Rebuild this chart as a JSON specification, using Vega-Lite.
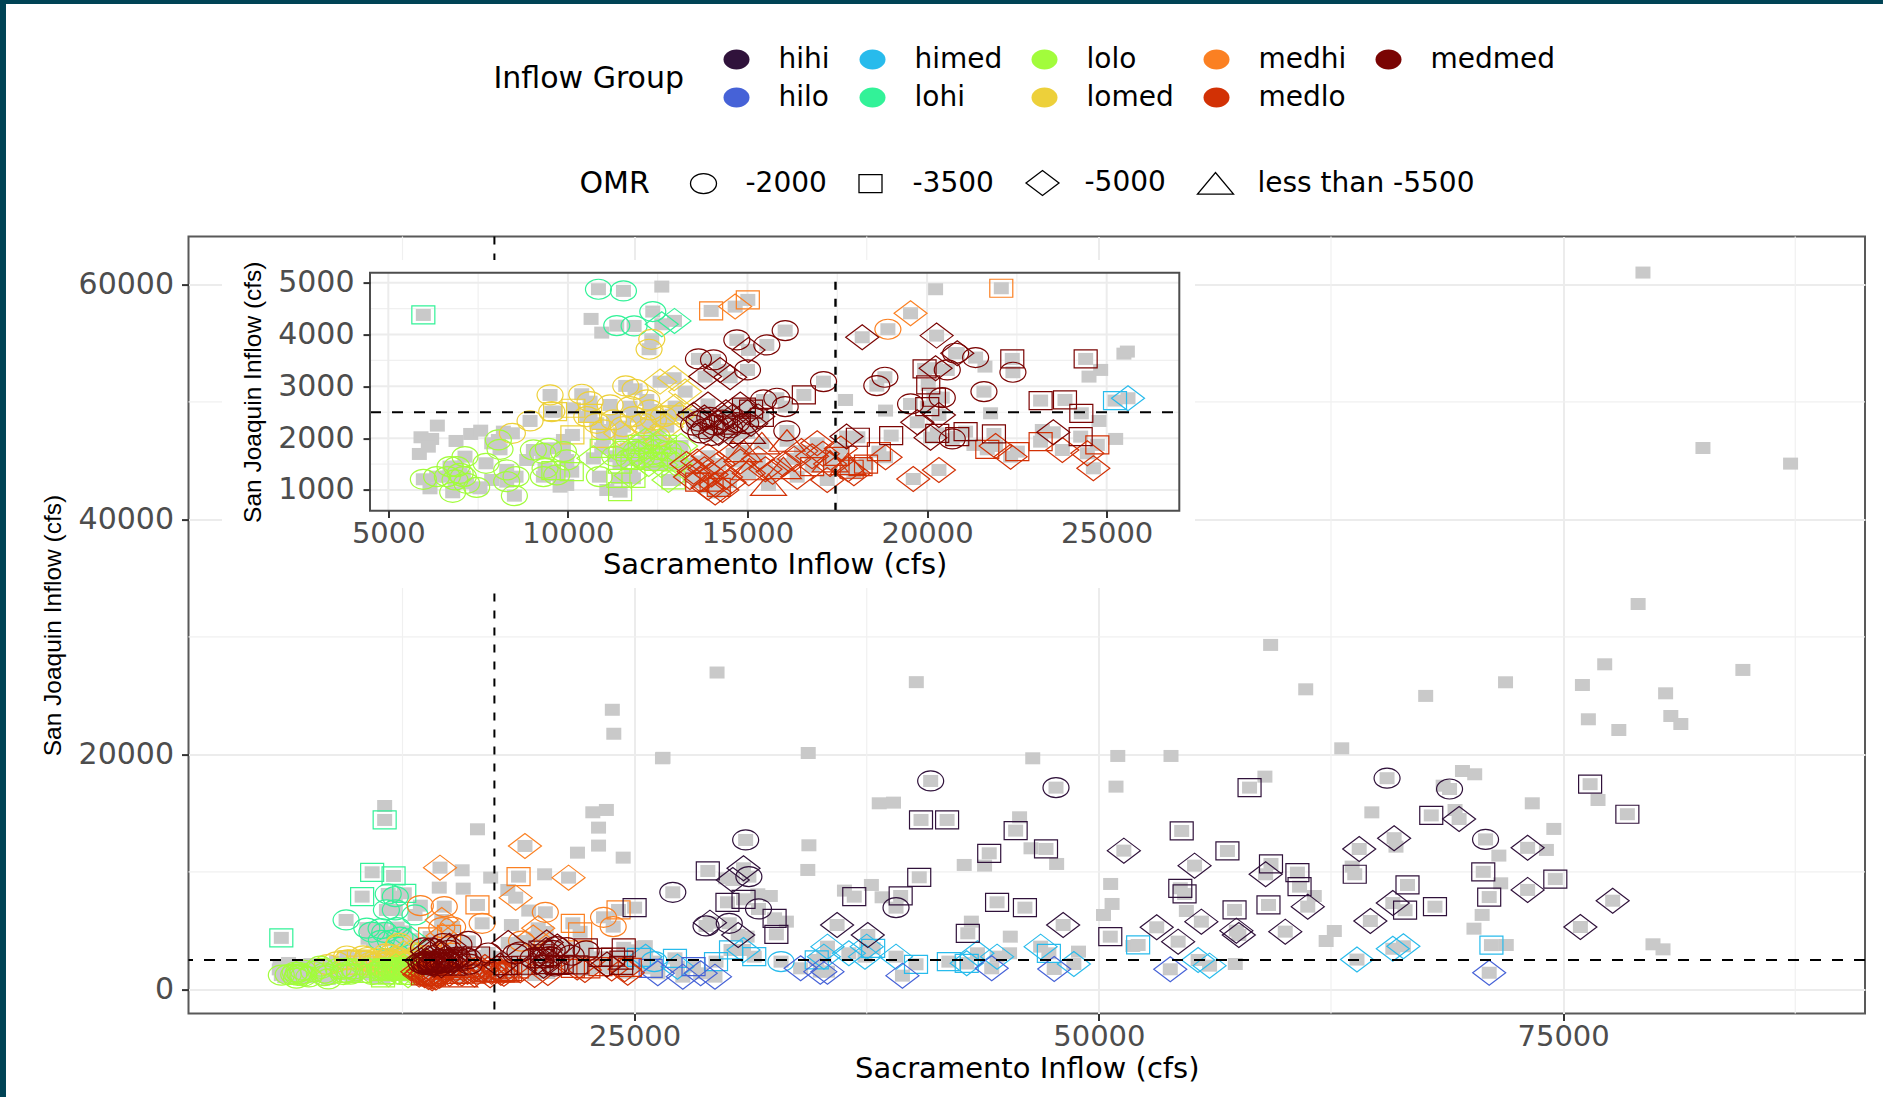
{
"$schema":"https://vega.github.io/schema/vega-lite/v6.json",
"autosize":"none",
"width":1676.5,"height":777,
"padding":{"left":188.5,"top":236.6,"right":18,"bottom":83.4},
"background":"white",
"config":{"font":"DejaVu Sans","view":{"stroke":"#595959","strokeWidth":2}},
"datasets":{
"frame":[{"x":-9174,"x2":-8851,"y":84195,"y2":-9160},{"x":-9174,"x2":92225,"y":84195,"y2":83855}],
"insetBack":[{"x":2781,"x2":55178,"y":62070,"y2":34155}],
"mainMinorX":[{"v":12500},{"v":37500},{"v":62500},{"v":87500}],
"mainMinorY":[{"v":10000},{"v":30000},{"v":50000}],
"insetMajorX":[{"v":5000},{"v":10000},{"v":15000},{"v":20000},{"v":25000}],
"insetMinorX":[{"v":7500},{"v":12500},{"v":17500},{"v":22500}],
"insetMajorY":[{"v":1000},{"v":2000},{"v":3000},{"v":4000},{"v":5000}],
"insetMinorY":[{"v":1500},{"v":2500},{"v":3500},{"v":4500}],
"pts":[
{"sac":79300,"sjr":61000},{"sac":82530,"sjr":46070},{"sac":87250,"sjr":44740},{"sac":79040,"sjr":32790},{"sac":59250,"sjr":29310},{"sac":29440,"sjr":26960},{"sac":61140,"sjr":25530},{"sac":40170,"sjr":26140},{"sac":67600,"sjr":24970},{"sac":71900,"sjr":26130},{"sac":77240,"sjr":27660},{"sac":76040,"sjr":25900},{"sac":76360,"sjr":22980},{"sac":78000,"sjr":22070},{"sac":84680,"sjr":27180},{"sac":80520,"sjr":25190},{"sac":80800,"sjr":23260},{"sac":81340,"sjr":22580},{"sac":23800,"sjr":23790},{"sac":23880,"sjr":21750},{"sac":26530,"sjr":19700},{"sac":34350,"sjr":20110},{"sac":63080,"sjr":20510},{"sac":46440,"sjr":19660},{"sac":51019,"sjr":19859},{"sac":53885,"sjr":19859},{"sac":69580,"sjr":18580},{"sac":70240,"sjr":18300},{"sac":58942,"sjr":18100},{"sac":50923,"sjr":17249},{"sac":73340,"sjr":15830},{"sac":74500,"sjr":13650},{"sac":76880,"sjr":16110},{"sac":64700,"sjr":15060},{"sac":69180,"sjr":15260},{"sac":68540,"sjr":17330},{"sac":74100,"sjr":11860},{"sac":71540,"sjr":11380},{"sac":63640,"sjr":10440},{"sac":71640,"sjr":9020},{"sac":61600,"sjr":7940},{"sac":62680,"sjr":4960},{"sac":62240,"sjr":4110},{"sac":70640,"sjr":6330},{"sac":70200,"sjr":5160},{"sac":79840,"sjr":3830},{"sac":80380,"sjr":3400},{"sac":71940,"sjr":3770},{"sac":66000,"sjr":12140},
{"sac":11540,"sjr":15600},{"sac":16538,"sjr":13618},{"sac":22750,"sjr":15065},{"sac":23480,"sjr":15263},{"sac":23058,"sjr":13760},{"sac":23058,"sjr":12230},{"sac":21923,"sjr":11630},{"sac":24385,"sjr":11206},{"sac":26500,"sjr":19660},{"sac":15712,"sjr":10128},{"sac":17250,"sjr":9504},{"sac":14480,"sjr":8653},{"sac":15770,"sjr":8568},{"sac":20154,"sjr":9788},{"sac":18173,"sjr":8454},{"sac":31635,"sjr":8085},{"sac":32308,"sjr":7943},{"sac":29904,"sjr":9447},{"sac":31058,"sjr":4482},{"sac":25480,"sjr":3631},{"sac":18365,"sjr":5475},{"sac":19300,"sjr":6700},
{"sac":33173,"sjr":5759},{"sac":34385,"sjr":12256},{"sac":34327,"sjr":10157},{"sac":38173,"sjr":15830},{"sac":38942,"sjr":15887},{"sac":45731,"sjr":14639},{"sac":46346,"sjr":12000},{"sac":47727,"sjr":10667},{"sac":42750,"sjr":10582},{"sac":43846,"sjr":10525},{"sac":37750,"sjr":8880},{"sac":36300,"sjr":8400},{"sac":38327,"sjr":7830},{"sac":50635,"sjr":8965},{"sac":50712,"sjr":7263},{"sac":50250,"sjr":6326},{"sac":54711,"sjr":6667},{"sac":43135,"sjr":5759},{"sac":45231,"sjr":4482},{"sac":45192,"sjr":3064},{"sac":48904,"sjr":3206},{"sac":57346,"sjr":2156},{"sac":51827,"sjr":3688},
{"sac":12614,"sjr":4925},{"sac":10645,"sjr":4301},{"sac":10942,"sjr":4037},{"sac":6365,"sjr":2242},{"sac":5910,"sjr":2017},{"sac":6207,"sjr":1985},{"sac":6114,"sjr":1836},{"sac":5864,"sjr":1695},{"sac":6885,"sjr":1946},{"sac":7293,"sjr":2081},{"sac":7572,"sjr":2145},{"sac":7878,"sjr":1901},{"sac":8203,"sjr":2126},{"sac":6160,"sjr":1032},{"sac":7553,"sjr":1032},{"sac":7878,"sjr":1193},{"sac":9782,"sjr":1064},{"sac":9968,"sjr":1097},{"sac":11082,"sjr":1000},{"sac":9875,"sjr":1965},{"sac":8853,"sjr":1579},{"sac":20237,"sjr":4874},{"sac":25576,"sjr":3671},{"sac":24833,"sjr":3317},{"sac":24508,"sjr":3188},{"sac":17730,"sjr":2737},{"sac":18844,"sjr":2532},{"sac":21768,"sjr":2480},{"sac":24786,"sjr":2332},{"sac":25251,"sjr":1985},{"sac":23208,"sjr":2158},{"sac":21611,"sjr":3381},{"sac":21304,"sjr":1869},
{"sac":5975,"sjr":4378,"group":"lohi","omr":"-3500"},{"sac":11540,"sjr":14412,"group":"lohi","omr":"-3500"},{"sac":10866,"sjr":9958,"group":"lohi","omr":"-3500"},{"sac":12020,"sjr":9646,"group":"lohi","omr":"-3500"},{"sac":10327,"sjr":7887,"group":"lohi","omr":"-3500"},{"sac":12596,"sjr":8170,"group":"lohi","omr":"-3500"},
{"sac":10850,"sjr":4874,"group":"lohi","omr":"-2000"},{"sac":11546,"sjr":4842,"group":"lohi","omr":"-2000"},{"sac":11360,"sjr":4172,"group":"lohi","omr":"-2000"},{"sac":11843,"sjr":4166,"group":"lohi","omr":"-2000"},{"sac":12363,"sjr":4443,"group":"lohi","omr":"-2000"},{"sac":11732,"sjr":8114,"group":"lohi","omr":"-2000"},{"sac":12115,"sjr":7887,"group":"lohi","omr":"-2000"},{"sac":11635,"sjr":6752,"group":"lohi","omr":"-2000"},{"sac":12115,"sjr":6752,"group":"lohi","omr":"-2000"},{"sac":13174,"sjr":6326,"group":"lohi","omr":"-2000"},{"sac":9463,"sjr":5901,"group":"lohi","omr":"-2000"},{"sac":10578,"sjr":5208,"group":"lohi","omr":"-2000"},{"sac":11347,"sjr":5166,"group":"lohi","omr":"-2000"},{"sac":12211,"sjr":5250,"group":"lohi","omr":"-2000"},
{"sac":12614,"sjr":4198,"group":"lohi","omr":"-5000"},{"sac":12967,"sjr":4263,"group":"lohi","omr":"-5000"},
{"sac":13988,"sjr":4455,"group":"medhi","omr":"-3500"},{"sac":14656,"sjr":4539,"group":"medhi","omr":"-5000"},{"sac":15009,"sjr":4668,"group":"medhi","omr":"-3500"},{"sac":18909,"sjr":4102,"group":"medhi","omr":"-2000"},{"sac":19540,"sjr":4410,"group":"medhi","omr":"-5000"},{"sac":22066,"sjr":4893,"group":"medhi","omr":"-3500"},
{"sac":14520,"sjr":10355,"group":"medhi","omr":"-5000"},{"sac":19096,"sjr":12199,"group":"medhi","omr":"-5000"},{"sac":21443,"sjr":9504,"group":"medhi","omr":"-5000"},{"sac":18596,"sjr":7802,"group":"medhi","omr":"-5000"},{"sac":14616,"sjr":5901,"group":"medhi","omr":"-5000"},{"sac":19808,"sjr":5192,"group":"medhi","omr":"-5000"},{"sac":18750,"sjr":9590,"group":"medhi","omr":"-3500"},{"sac":16538,"sjr":7178,"group":"medhi","omr":"-3500"},{"sac":21673,"sjr":5617,"group":"medhi","omr":"-3500"},{"sac":24135,"sjr":6752,"group":"medhi","omr":"-3500"},{"sac":13462,"sjr":7120,"group":"medhi","omr":"-2000"},{"sac":14750,"sjr":7036,"group":"medhi","omr":"-2000"},{"sac":16789,"sjr":5617,"group":"medhi","omr":"-2000"},{"sac":20192,"sjr":6553,"group":"medhi","omr":"-2000"},{"sac":23327,"sjr":6128,"group":"medhi","omr":"-2000"},{"sac":23846,"sjr":5334,"group":"medhi","omr":"-2000"},{"sac":14616,"sjr":5250,"group":"medhi","omr":"-2000"},{"sac":15200,"sjr":5300,"group":"medhi","omr":"-2000"},
{"sac":25232,"sjr":2725,"group":"himed","omr":"-3500"},{"sac":25594,"sjr":2770,"group":"himed","omr":"-5000"},{"sac":26057,"sjr":2355,"group":"himed","omr":"-2000"},{"sac":27173,"sjr":2638,"group":"himed","omr":"-3500"},{"sac":27307,"sjr":1929,"group":"himed","omr":"-5000"},{"sac":29384,"sjr":2355,"group":"himed","omr":"-3500"},{"sac":30192,"sjr":3348,"group":"himed","omr":"-3500"},{"sac":30865,"sjr":3348,"group":"himed","omr":"-5000"},{"sac":31442,"sjr":2780,"group":"himed","omr":"-3500"},{"sac":32884,"sjr":2355,"group":"himed","omr":"-2000"},{"sac":35385,"sjr":3631,"group":"himed","omr":"-5000"},{"sac":35192,"sjr":2780,"group":"himed","omr":"-5000"},{"sac":34808,"sjr":2497,"group":"himed","omr":"-3500"},{"sac":36538,"sjr":3064,"group":"himed","omr":"-5000"},{"sac":37500,"sjr":3631,"group":"himed","omr":"-5000"},{"sac":37846,"sjr":3490,"group":"himed","omr":"-3500"},{"sac":37404,"sjr":2780,"group":"himed","omr":"-5000"},{"sac":39077,"sjr":2780,"group":"himed","omr":"-5000"},{"sac":40154,"sjr":2128,"group":"himed","omr":"-3500"},{"sac":41923,"sjr":2355,"group":"himed","omr":"-3500"},{"sac":42885,"sjr":2213,"group":"himed","omr":"-3500"},{"sac":43462,"sjr":3064,"group":"himed","omr":"-5000"},{"sac":44519,"sjr":2780,"group":"himed","omr":"-5000"},{"sac":42885,"sjr":2213,"group":"himed","omr":"-5000"},{"sac":46865,"sjr":3631,"group":"himed","omr":"-5000"},{"sac":47308,"sjr":3064,"group":"himed","omr":"-3500"},{"sac":48654,"sjr":2156,"group":"himed","omr":"-5000"},{"sac":52115,"sjr":3773,"group":"himed","omr":"-3500"},{"sac":55346,"sjr":2497,"group":"himed","omr":"-5000"},{"sac":55962,"sjr":2014,"group":"himed","omr":"-5000"},{"sac":63900,"sjr":2530,"group":"himed","omr":"-5000"},{"sac":65830,"sjr":3450,"group":"himed","omr":"-5000"},{"sac":66400,"sjr":3660,"group":"himed","omr":"-5000"},{"sac":71140,"sjr":3760,"group":"himed","omr":"-3500"},
{"sac":25865,"sjr":1787,"group":"hilo","omr":"-3500"},{"sac":26250,"sjr":1362,"group":"hilo","omr":"-5000"},{"sac":27596,"sjr":1078,"group":"hilo","omr":"-5000"},{"sac":28558,"sjr":1362,"group":"hilo","omr":"-5000"},{"sac":29327,"sjr":1078,"group":"hilo","omr":"-5000"},{"sac":28173,"sjr":1929,"group":"hilo","omr":"-3500"},{"sac":33942,"sjr":1787,"group":"hilo","omr":"-5000"},{"sac":35000,"sjr":1504,"group":"hilo","omr":"-5000"},{"sac":35385,"sjr":1504,"group":"hilo","omr":"-5000"},{"sac":39423,"sjr":1163,"group":"hilo","omr":"-5000"},{"sac":44231,"sjr":1787,"group":"hilo","omr":"-5000"},{"sac":47596,"sjr":1731,"group":"hilo","omr":"-5000"},{"sac":53846,"sjr":1702,"group":"hilo","omr":"-5000"},{"sac":71020,"sjr":1410,"group":"hilo","omr":"-5000"},
{"sac":25000,"sjr":6950,"group":"hihi","omr":"-3500"},{"sac":28942,"sjr":10071,"group":"hihi","omr":"-3500"},{"sac":30000,"sjr":7404,"group":"hihi","omr":"-3500"},{"sac":30865,"sjr":7660,"group":"hihi","omr":"-3500"},{"sac":32538,"sjr":6043,"group":"hihi","omr":"-3500"},{"sac":32634,"sjr":4681,"group":"hihi","omr":"-3500"},{"sac":27057,"sjr":8255,"group":"hihi","omr":"-2000"},{"sac":30980,"sjr":12710,"group":"hihi","omr":"-2000"},{"sac":31154,"sjr":9589,"group":"hihi","omr":"-2000"},{"sac":31673,"sjr":6837,"group":"hihi","omr":"-2000"},{"sac":28846,"sjr":5390,"group":"hihi","omr":"-2000"},{"sac":30096,"sjr":5617,"group":"hihi","omr":"-2000"},{"sac":30865,"sjr":10298,"group":"hihi","omr":"-5000"},{"sac":30288,"sjr":9305,"group":"hihi","omr":"-5000"},{"sac":29058,"sjr":5674,"group":"hihi","omr":"-5000"},{"sac":30577,"sjr":4624,"group":"hihi","omr":"-5000"},
{"sac":40943,"sjr":17731,"group":"hihi","omr":"-2000"},{"sac":47692,"sjr":17164,"group":"hihi","omr":"-2000"},{"sac":39077,"sjr":6950,"group":"hihi","omr":"-2000"},
{"sac":40423,"sjr":14412,"group":"hihi","omr":"-3500"},{"sac":41827,"sjr":14412,"group":"hihi","omr":"-3500"},{"sac":45519,"sjr":13504,"group":"hihi","omr":"-3500"},{"sac":44096,"sjr":11575,"group":"hihi","omr":"-3500"},{"sac":47154,"sjr":11944,"group":"hihi","omr":"-3500"},{"sac":40327,"sjr":9532,"group":"hihi","omr":"-3500"},{"sac":39327,"sjr":7943,"group":"hihi","omr":"-3500"},{"sac":36828,"sjr":7887,"group":"hihi","omr":"-3500"},{"sac":42943,"sjr":4766,"group":"hihi","omr":"-3500"},{"sac":44519,"sjr":7404,"group":"hihi","omr":"-3500"},{"sac":46019,"sjr":6950,"group":"hihi","omr":"-3500"},{"sac":50615,"sjr":4482,"group":"hihi","omr":"-3500"},{"sac":54461,"sjr":13476,"group":"hihi","omr":"-3500"},{"sac":56923,"sjr":11773,"group":"hihi","omr":"-3500"},{"sac":58115,"sjr":17164,"group":"hihi","omr":"-3500"},{"sac":59269,"sjr":10667,"group":"hihi","omr":"-3500"},{"sac":60692,"sjr":9929,"group":"hihi","omr":"-3500"},{"sac":60807,"sjr":8738,"group":"hihi","omr":"-3500"},{"sac":54385,"sjr":8596,"group":"hihi","omr":"-3500"},{"sac":54615,"sjr":8114,"group":"hihi","omr":"-3500"},{"sac":57307,"sjr":6752,"group":"hihi","omr":"-3500"},{"sac":59134,"sjr":7178,"group":"hihi","omr":"-3500"},
{"sac":35904,"sjr":5475,"group":"hihi","omr":"-5000"},{"sac":37558,"sjr":4624,"group":"hihi","omr":"-5000"},{"sac":48077,"sjr":5475,"group":"hihi","omr":"-5000"},{"sac":51346,"sjr":11802,"group":"hihi","omr":"-5000"},{"sac":55154,"sjr":10525,"group":"hihi","omr":"-5000"},{"sac":58981,"sjr":9788,"group":"hihi","omr":"-5000"},{"sac":61250,"sjr":7036,"group":"hihi","omr":"-5000"},{"sac":53115,"sjr":5277,"group":"hihi","omr":"-5000"},{"sac":54269,"sjr":4057,"group":"hihi","omr":"-5000"},{"sac":55519,"sjr":5759,"group":"hihi","omr":"-5000"},{"sac":60038,"sjr":4908,"group":"hihi","omr":"-5000"},{"sac":57404,"sjr":4993,"group":"hihi","omr":"-5000"},{"sac":57538,"sjr":4624,"group":"hihi","omr":"-5000"},
{"sac":65520,"sjr":17966,"group":"hihi","omr":"-2000"},{"sac":68885,"sjr":17047,"group":"hihi","omr":"-2000"},{"sac":70824,"sjr":12755,"group":"hihi","omr":"-2000"},{"sac":76454,"sjr":17456,"group":"hihi","omr":"-3500"},{"sac":78460,"sjr":14900,"group":"hihi","omr":"-3500"},{"sac":67900,"sjr":14800,"group":"hihi","omr":"-3500"},{"sac":74580,"sjr":9380,"group":"hihi","omr":"-3500"},{"sac":63780,"sjr":9790,"group":"hihi","omr":"-3500"},{"sac":66620,"sjr":8880,"group":"hihi","omr":"-3500"},{"sac":66490,"sjr":6730,"group":"hihi","omr":"-3500"},{"sac":68100,"sjr":7030,"group":"hihi","omr":"-3500"},{"sac":70700,"sjr":10000,"group":"hihi","omr":"-3500"},{"sac":71020,"sjr":7850,"group":"hihi","omr":"-3500"},{"sac":64020,"sjr":11940,"group":"hihi","omr":"-5000"},{"sac":65900,"sjr":12860,"group":"hihi","omr":"-5000"},{"sac":69400,"sjr":14490,"group":"hihi","omr":"-5000"},{"sac":73090,"sjr":12040,"group":"hihi","omr":"-5000"},{"sac":73090,"sjr":8460,"group":"hihi","omr":"-5000"},{"sac":64620,"sjr":5810,"group":"hihi","omr":"-5000"},{"sac":65830,"sjr":7340,"group":"hihi","omr":"-5000"},{"sac":75930,"sjr":5300,"group":"hihi","omr":"-5000"},{"sac":77670,"sjr":7540,"group":"hihi","omr":"-5000"},
{"sac":12335,"sjr":3908,"group":"lomed","omr":"-2000"},{"sac":12260,"sjr":3716,"group":"lomed","omr":"-2000"},{"sac":9503,"sjr":2834,"group":"lomed","omr":"-2000"},{"sac":10385,"sjr":2847,"group":"lomed","omr":"-2000"},{"sac":10617,"sjr":2705,"group":"lomed","omr":"-2000"},{"sac":11610,"sjr":3008,"group":"lomed","omr":"-2000"},{"sac":11870,"sjr":2943,"group":"lomed","omr":"-2000"},{"sac":8946,"sjr":2332,"group":"lomed","omr":"-2000"},{"sac":8454,"sjr":2094,"group":"lomed","omr":"-2000"},{"sac":9550,"sjr":2512,"group":"lomed","omr":"-2000"},{"sac":11175,"sjr":2641,"group":"lomed","omr":"-2000"},{"sac":11730,"sjr":2608,"group":"lomed","omr":"-2000"},{"sac":12196,"sjr":2737,"group":"lomed","omr":"-2000"},{"sac":12290,"sjr":2544,"group":"lomed","omr":"-2000"},{"sac":10525,"sjr":2416,"group":"lomed","omr":"-2000"},{"sac":10803,"sjr":2287,"group":"lomed","omr":"-2000"},{"sac":11267,"sjr":2351,"group":"lomed","omr":"-2000"},{"sac":11546,"sjr":2222,"group":"lomed","omr":"-2000"},{"sac":11825,"sjr":2416,"group":"lomed","omr":"-2000"},{"sac":12103,"sjr":2287,"group":"lomed","omr":"-2000"},{"sac":12475,"sjr":2030,"group":"lomed","omr":"-2000"},{"sac":10988,"sjr":2158,"group":"lomed","omr":"-2000"},{"sac":12382,"sjr":2351,"group":"lomed","omr":"-2000"},{"sac":12660,"sjr":2416,"group":"lomed","omr":"-2000"},
{"sac":9643,"sjr":2512,"group":"lomed","omr":"-3500"},{"sac":10153,"sjr":2577,"group":"lomed","omr":"-3500"},{"sac":10125,"sjr":2062,"group":"lomed","omr":"-3500"},{"sac":10617,"sjr":2480,"group":"lomed","omr":"-3500"},{"sac":10988,"sjr":1997,"group":"lomed","omr":"-3500"},{"sac":12900,"sjr":2450,"group":"lomed","omr":"-3500"},{"sac":12567,"sjr":3091,"group":"lomed","omr":"-5000"},{"sac":12957,"sjr":3156,"group":"lomed","omr":"-5000"},{"sac":13263,"sjr":2898,"group":"lomed","omr":"-5000"},{"sac":12985,"sjr":2609,"group":"lomed","omr":"-5000"},{"sac":12753,"sjr":2222,"group":"lomed","omr":"-5000"},{"sac":11453,"sjr":2094,"group":"lomed","omr":"-5000"},{"sac":12196,"sjr":2190,"group":"lomed","omr":"-5000"},{"sac":13100,"sjr":2450,"group":"lomed","omr":"-5000"},
{"sac":5975,"sjr":1206,"group":"lolo","omr":"-2000"},{"sac":6346,"sjr":1257,"group":"lolo","omr":"-2000"},{"sac":6643,"sjr":1257,"group":"lolo","omr":"-2000"},{"sac":6903,"sjr":1450,"group":"lolo","omr":"-2000"},{"sac":7135,"sjr":1643,"group":"lolo","omr":"-2000"},{"sac":7000,"sjr":1320,"group":"lolo","omr":"-2000"},{"sac":6857,"sjr":1193,"group":"lolo","omr":"-2000"},{"sac":7182,"sjr":1129,"group":"lolo","omr":"-2000"},{"sac":7460,"sjr":1051,"group":"lolo","omr":"-2000"},{"sac":6792,"sjr":955,"group":"lolo","omr":"-2000"},{"sac":7089,"sjr":1257,"group":"lolo","omr":"-2000"},{"sac":6718,"sjr":1450,"group":"lolo","omr":"-2000"},{"sac":7720,"sjr":1515,"group":"lolo","omr":"-2000"},{"sac":8064,"sjr":1965,"group":"lolo","omr":"-2000"},{"sac":8110,"sjr":1785,"group":"lolo","omr":"-2000"},{"sac":8296,"sjr":1386,"group":"lolo","omr":"-2000"},{"sac":8296,"sjr":1161,"group":"lolo","omr":"-2000"},{"sac":8556,"sjr":1257,"group":"lolo","omr":"-2000"},{"sac":8510,"sjr":890,"group":"lolo","omr":"-2000"},{"sac":9039,"sjr":1772,"group":"lolo","omr":"-2000"},{"sac":9299,"sjr":1708,"group":"lolo","omr":"-2000"},{"sac":9457,"sjr":1804,"group":"lolo","omr":"-2000"},{"sac":9875,"sjr":1740,"group":"lolo","omr":"-2000"},{"sac":9364,"sjr":1418,"group":"lolo","omr":"-2000"},{"sac":9317,"sjr":1257,"group":"lolo","omr":"-2000"},{"sac":9689,"sjr":1290,"group":"lolo","omr":"-2000"},{"sac":9968,"sjr":1579,"group":"lolo","omr":"-2000"},{"sac":10877,"sjr":1257,"group":"lolo","omr":"-2000"},
{"sac":10107,"sjr":1354,"group":"lolo","omr":"-3500"},{"sac":11453,"sjr":968,"group":"lolo","omr":"-3500"},{"sac":11407,"sjr":1225,"group":"lolo","omr":"-3500"},{"sac":11825,"sjr":1225,"group":"lolo","omr":"-3500"},{"sac":12939,"sjr":1193,"group":"lolo","omr":"-3500"},{"sac":9596,"sjr":1373,"group":"lolo","omr":"-3500"},{"sac":10942,"sjr":1804,"group":"lolo","omr":"-3500"},{"sac":11800,"sjr":1580,"group":"lolo","omr":"-3500"},{"sac":12300,"sjr":1620,"group":"lolo","omr":"-3500"},{"sac":10710,"sjr":1611,"group":"lolo","omr":"-5000"},{"sac":12800,"sjr":1193,"group":"lolo","omr":"-5000"},{"sac":11750,"sjr":1280,"group":"lolo","omr":"-5000"},
{"sac":11300,"sjr":1650,"group":"lolo","omr":"-2000"},{"sac":11500,"sjr":1750,"group":"lolo","omr":"-2000"},{"sac":11700,"sjr":1600,"group":"lolo","omr":"-2000"},{"sac":11900,"sjr":1750,"group":"lolo","omr":"-2000"},{"sac":12050,"sjr":1620,"group":"lolo","omr":"-2000"},{"sac":12200,"sjr":1800,"group":"lolo","omr":"-2000"},{"sac":12350,"sjr":1680,"group":"lolo","omr":"-2000"},{"sac":12500,"sjr":1780,"group":"lolo","omr":"-2000"},{"sac":12650,"sjr":1650,"group":"lolo","omr":"-2000"},{"sac":12800,"sjr":1750,"group":"lolo","omr":"-2000"},{"sac":12950,"sjr":1620,"group":"lolo","omr":"-2000"},{"sac":13050,"sjr":1750,"group":"lolo","omr":"-2000"},{"sac":11450,"sjr":1500,"group":"lolo","omr":"-3500"},{"sac":11650,"sjr":1800,"group":"lolo","omr":"-3500"},{"sac":12000,"sjr":1880,"group":"lolo","omr":"-3500"},{"sac":12450,"sjr":1550,"group":"lolo","omr":"-3500"},{"sac":12700,"sjr":1880,"group":"lolo","omr":"-3500"},{"sac":12250,"sjr":1500,"group":"lolo","omr":"-5000"},{"sac":12600,"sjr":1480,"group":"lolo","omr":"-5000"},{"sac":13000,"sjr":1500,"group":"lolo","omr":"-5000"},{"sac":13150,"sjr":1850,"group":"lolo","omr":"-5000"},{"sac":11950,"sjr":1700,"group":"lolo","omr":"-5000"},{"sac":12150,"sjr":1950,"group":"lolo","omr":"-5000"},{"sac":12550,"sjr":1930,"group":"lolo","omr":"-5000"},
{"sac":13300,"sjr":1500,"group":"medlo","omr":"-5000"},{"sac":13500,"sjr":1350,"group":"medlo","omr":"-5000"},{"sac":13700,"sjr":1200,"group":"medlo","omr":"-5000"},{"sac":13900,"sjr":1050,"group":"medlo","omr":"-5000"},{"sac":14100,"sjr":1100,"group":"medlo","omr":"-5000"},{"sac":13400,"sjr":1250,"group":"medlo","omr":"-5000"},{"sac":13600,"sjr":1550,"group":"medlo","omr":"-5000"},{"sac":13800,"sjr":1400,"group":"medlo","omr":"-5000"},{"sac":14000,"sjr":1300,"group":"medlo","omr":"-5000"},{"sac":14200,"sjr":1500,"group":"medlo","omr":"-5000"},{"sac":14400,"sjr":1250,"group":"medlo","omr":"-5000"},{"sac":13900,"sjr":1650,"group":"medlo","omr":"-5000"},{"sac":14100,"sjr":950,"group":"medlo","omr":"-5000"},{"sac":14300,"sjr":1000,"group":"medlo","omr":"-5000"},{"sac":14500,"sjr":1150,"group":"medlo","omr":"-5000"},{"sac":14600,"sjr":1700,"group":"medlo","omr":"-5000"},{"sac":14800,"sjr":1550,"group":"medlo","omr":"-5000"},{"sac":15300,"sjr":1600,"group":"medlo","omr":"-5000"},{"sac":15500,"sjr":1400,"group":"medlo","omr":"-5000"},{"sac":15700,"sjr":1350,"group":"medlo","omr":"-5000"},{"sac":16000,"sjr":1500,"group":"medlo","omr":"-5000"},{"sac":16300,"sjr":1600,"group":"medlo","omr":"-5000"},{"sac":16500,"sjr":1750,"group":"medlo","omr":"-5000"},{"sac":16800,"sjr":1650,"group":"medlo","omr":"-5000"},{"sac":17100,"sjr":1700,"group":"medlo","omr":"-5000"},{"sac":17300,"sjr":1500,"group":"medlo","omr":"-5000"},{"sac":17600,"sjr":1800,"group":"medlo","omr":"-5000"},{"sac":17800,"sjr":1400,"group":"medlo","omr":"-5000"},
{"sac":13600,"sjr":1150,"group":"medlo","omr":"-3500"},{"sac":14000,"sjr":1150,"group":"medlo","omr":"-3500"},{"sac":14200,"sjr":1050,"group":"medlo","omr":"-3500"},{"sac":16800,"sjr":1450,"group":"medlo","omr":"-3500"},{"sac":17500,"sjr":1650,"group":"medlo","omr":"-3500"},{"sac":17900,"sjr":1400,"group":"medlo","omr":"-3500"},{"sac":18300,"sjr":1500,"group":"medlo","omr":"-3500"},
{"sac":15584,"sjr":1097,"group":"medlo","omr":"less than -5500"},{"sac":14900,"sjr":1750,"group":"medlo","omr":"less than -5500"},{"sac":15400,"sjr":1900,"group":"medlo","omr":"less than -5500"},{"sac":16100,"sjr":1950,"group":"medlo","omr":"less than -5500"},{"sac":15050,"sjr":1400,"group":"medlo","omr":"less than -5500"},{"sac":17300,"sjr":1550,"group":"medlo","omr":"less than -5500"},{"sac":16000,"sjr":1420,"group":"medlo","omr":"less than -5500"},{"sac":17800,"sjr":1500,"group":"medlo","omr":"less than -5500"},
{"sac":21676,"sjr":1785,"group":"medlo","omr":"-3500"},{"sac":22512,"sjr":1740,"group":"medlo","omr":"-3500"},{"sac":23161,"sjr":1933,"group":"medlo","omr":"-3500"},{"sac":24740,"sjr":1869,"group":"medlo","omr":"-3500"},{"sac":18658,"sjr":1740,"group":"medlo","omr":"-3500"},{"sac":18147,"sjr":1450,"group":"medlo","omr":"-3500"},
{"sac":18844,"sjr":1631,"group":"medlo","omr":"-5000"},{"sac":19615,"sjr":1212,"group":"medlo","omr":"-5000"},{"sac":20330,"sjr":1386,"group":"medlo","omr":"-5000"},{"sac":17962,"sjr":1322,"group":"medlo","omr":"-5000"},{"sac":21908,"sjr":1849,"group":"medlo","omr":"-5000"},{"sac":22326,"sjr":1643,"group":"medlo","omr":"-5000"},{"sac":23766,"sjr":1772,"group":"medlo","omr":"-5000"},{"sac":24462,"sjr":1708,"group":"medlo","omr":"-5000"},{"sac":24629,"sjr":1418,"group":"medlo","omr":"-5000"},{"sac":17219,"sjr":1193,"group":"medlo","omr":"-5000"},{"sac":16383,"sjr":1257,"group":"medlo","omr":"-5000"},{"sac":16940,"sjr":1900,"group":"medlo","omr":"-5000"},{"sac":15037,"sjr":1322,"group":"medlo","omr":"-5000"},
{"sac":13635,"sjr":3529,"group":"medmed","omr":"-2000"},{"sac":14053,"sjr":3510,"group":"medmed","omr":"-2000"},{"sac":14703,"sjr":3896,"group":"medmed","omr":"-2000"},{"sac":15538,"sjr":3799,"group":"medmed","omr":"-2000"},{"sac":16049,"sjr":4076,"group":"medmed","omr":"-2000"},{"sac":15000,"sjr":3317,"group":"medmed","omr":"-2000"},{"sac":17117,"sjr":3091,"group":"medmed","omr":"-2000"},{"sac":15445,"sjr":2737,"group":"medmed","omr":"-2000"},{"sac":15817,"sjr":2770,"group":"medmed","omr":"-2000"},{"sac":16049,"sjr":2608,"group":"medmed","omr":"-2000"},{"sac":16095,"sjr":2139,"group":"medmed","omr":"-2000"},{"sac":18825,"sjr":3175,"group":"medmed","omr":"-2000"},{"sac":18600,"sjr":3014,"group":"medmed","omr":"-2000"},{"sac":19540,"sjr":2660,"group":"medmed","omr":"-2000"},{"sac":20423,"sjr":2782,"group":"medmed","omr":"-2000"},{"sac":20562,"sjr":3317,"group":"medmed","omr":"-2000"},{"sac":20794,"sjr":3639,"group":"medmed","omr":"-2000"},{"sac":21351,"sjr":3555,"group":"medmed","omr":"-2000"},{"sac":22390,"sjr":3272,"group":"medmed","omr":"-2000"},{"sac":21583,"sjr":2898,"group":"medmed","omr":"-2000"},{"sac":20701,"sjr":1985,"group":"medmed","omr":"-2000"},
{"sac":16569,"sjr":2834,"group":"medmed","omr":"-3500"},{"sac":19930,"sjr":3336,"group":"medmed","omr":"-3500"},{"sac":20032,"sjr":3027,"group":"medmed","omr":"-3500"},{"sac":20190,"sjr":2789,"group":"medmed","omr":"-3500"},{"sac":20005,"sjr":2609,"group":"medmed","omr":"-3500"},{"sac":22372,"sjr":3529,"group":"medmed","omr":"-3500"},{"sac":24415,"sjr":3529,"group":"medmed","omr":"-3500"},{"sac":23161,"sjr":2725,"group":"medmed","omr":"-3500"},{"sac":23839,"sjr":2737,"group":"medmed","omr":"-3500"},{"sac":24294,"sjr":2480,"group":"medmed","omr":"-3500"},{"sac":24276,"sjr":2030,"group":"medmed","omr":"-3500"},{"sac":21861,"sjr":2081,"group":"medmed","omr":"-3500"},{"sac":21072,"sjr":2126,"group":"medmed","omr":"-3500"},{"sac":20840,"sjr":2030,"group":"medmed","omr":"-3500"},{"sac":20283,"sjr":2094,"group":"medmed","omr":"-3500"},{"sac":19000,"sjr":2049,"group":"medmed","omr":"-3500"},{"sac":18073,"sjr":2017,"group":"medmed","omr":"-3500"},
{"sac":18194,"sjr":3947,"group":"medmed","omr":"-5000"},{"sac":20265,"sjr":3979,"group":"medmed","omr":"-5000"},{"sac":20840,"sjr":3639,"group":"medmed","omr":"-5000"},{"sac":20237,"sjr":3349,"group":"medmed","omr":"-5000"},{"sac":19726,"sjr":2306,"group":"medmed","omr":"-5000"},{"sac":20330,"sjr":2448,"group":"medmed","omr":"-5000"},{"sac":20097,"sjr":2010,"group":"medmed","omr":"-5000"},{"sac":23514,"sjr":2113,"group":"medmed","omr":"-5000"},{"sac":17758,"sjr":2030,"group":"medmed","omr":"-5000"},{"sac":13820,"sjr":3188,"group":"medmed","omr":"-5000"},{"sac":14238,"sjr":3317,"group":"medmed","omr":"-5000"},{"sac":14517,"sjr":3175,"group":"medmed","omr":"-5000"},{"sac":15028,"sjr":3703,"group":"medmed","omr":"-5000"},
{"sac":13500,"sjr":2250,"group":"medmed","omr":"-2000"},{"sac":13650,"sjr":2330,"group":"medmed","omr":"-2000"},{"sac":13800,"sjr":2180,"group":"medmed","omr":"-2000"},{"sac":13950,"sjr":2400,"group":"medmed","omr":"-2000"},{"sac":14100,"sjr":2250,"group":"medmed","omr":"-2000"},{"sac":14300,"sjr":2350,"group":"medmed","omr":"-2000"},{"sac":14500,"sjr":2200,"group":"medmed","omr":"-2000"},{"sac":14700,"sjr":2300,"group":"medmed","omr":"-2000"},{"sac":14950,"sjr":2280,"group":"medmed","omr":"-2000"},{"sac":13700,"sjr":2100,"group":"medmed","omr":"-2000"},{"sac":14000,"sjr":2050,"group":"medmed","omr":"-2000"},
{"sac":13900,"sjr":2650,"group":"medmed","omr":"-5000"},{"sac":14400,"sjr":2500,"group":"medmed","omr":"-5000"},{"sac":14800,"sjr":2650,"group":"medmed","omr":"-5000"},{"sac":15000,"sjr":2500,"group":"medmed","omr":"-5000"},{"sac":15300,"sjr":2420,"group":"medmed","omr":"-5000"},{"sac":14200,"sjr":2300,"group":"medmed","omr":"-5000"},{"sac":13500,"sjr":2450,"group":"medmed","omr":"-5000"},{"sac":14600,"sjr":2420,"group":"medmed","omr":"-5000"},{"sac":15100,"sjr":2280,"group":"medmed","omr":"-5000"},{"sac":14200,"sjr":2100,"group":"medmed","omr":"-5000"},{"sac":13800,"sjr":2400,"group":"medmed","omr":"-5000"},{"sac":14600,"sjr":2050,"group":"medmed","omr":"-5000"},
{"sac":14900,"sjr":2600,"group":"medmed","omr":"-3500"},{"sac":15100,"sjr":2560,"group":"medmed","omr":"-3500"},{"sac":14000,"sjr":2350,"group":"medmed","omr":"-3500"},{"sac":14400,"sjr":2250,"group":"medmed","omr":"-3500"},{"sac":15400,"sjr":2400,"group":"medmed","omr":"-3500"},{"sac":15000,"sjr":2100,"group":"medmed","omr":"less than -5500"}
]},
"resolve":{"scale":{"x":"independent","y":"independent"},"axis":{"x":"independent","y":"independent"}},
"layer":[
{"layer":[
{"data":{"name":"mainMinorX"},"mark":{"type":"rule","stroke":"#f0f0f0","strokeWidth":1.2},"encoding":{"x":{"field":"v","type":"quantitative","scale":{"domain":[977,91257],"nice":false,"zero":false},
"axis":{"title":"Sacramento Inflow (cfs)","values":[25000,50000,75000],"format":"d","orient":"bottom","grid":true,"gridColor":"#ececec","gridWidth":2,"domain":false,"tickColor":"#333333","tickSize":7,"tickWidth":2,"labelColor":"#4d4d4d","labelFontSize":29,"labelPadding":2,"titleFontSize":29,"titleFontWeight":"normal","titleColor":"black","titlePadding":3}}}},
{"data":{"name":"mainMinorY"},"mark":{"type":"rule","stroke":"#f0f0f0","strokeWidth":1.2},"encoding":{"y":{"field":"v","type":"quantitative","scale":{"domain":[-2068,64060],"nice":false,"zero":false},
"axis":{"title":"San Joaquin Inflow (cfs)","values":[0,20000,40000,60000],"format":"d","orient":"left","grid":true,"gridColor":"#ececec","gridWidth":2,"domain":false,"tickColor":"#333333","tickSize":7,"tickWidth":2,"labelColor":"#4d4d4d","labelFontSize":30,"labelPadding":8,"titleFont":"Liberation Sans","titleFontSize":24.5,"titleFontWeight":"normal","titleColor":"black","titlePadding":13}}}},
{"data":{"name":"pts"},"mark":{"type":"point","filled":true,"fill":"#c9c9c9","stroke":null,"opacity":1,"size":400,"shape":"M-0.75,-0.6H0.75V0.6H-0.75Z"},"encoding":{"x":{"field":"sac","type":"quantitative"},"y":{"field":"sjr","type":"quantitative"}}},
{"data":{"name":"pts"},"transform":[{"filter":"datum.group"}],"mark":{"type":"point","filled":true,"size":0,"strokeWidth":0,"opacity":1},"encoding":{"x":{"field":"sac","type":"quantitative"},"y":{"field":"sjr","type":"quantitative"},
"fill":{"field":"group","type":"nominal","scale":{"domain":["hihi","himed","lolo","medhi","medmed","hilo","lohi","lomed","medlo"],"range":["#30123b","#28bbec","#a2fc3c","#fb8022","#7a0403","#4662d7","#32f298","#edd03a","#d23105"]},
"legend":{"title":"Inflow Group","orient":"none","legendX":305,"legendY":-191,"direction":"horizontal","columns":5,"gridAlign":"each","titleOrient":"left","titleAnchor":"middle","titleLimit":400,"titleFontSize":30,"titleFontWeight":"normal","titleColor":"black","titlePadding":38,"labelFontSize":28,"labelLimit":400,"labelColor":"black","labelOffset":28,"columnPadding":28,"rowPadding":10,"symbolSize":400,"symbolOpacity":1,"symbolStrokeWidth":0,"symbolType":"M-1.3,0A1.3,1,0,1,1,1.3,0A1.3,1,0,1,1,-1.3,0Z"}}}},
{"data":{"name":"pts"},"transform":[{"filter":"datum.group"}],"mark":{"type":"point","filled":false,"size":400,"strokeWidth":1.2,"opacity":1},"encoding":{"x":{"field":"sac","type":"quantitative"},"y":{"field":"sjr","type":"quantitative"},
"color":{"field":"group","type":"nominal","legend":null,"scale":{"domain":["hihi","himed","lolo","medhi","medmed","hilo","lohi","lomed","medlo"],"range":["#30123b","#28bbec","#a2fc3c","#fb8022","#7a0403","#4662d7","#32f298","#edd03a","#d23105"]}},
"shape":{"field":"omr","type":"nominal","scale":{"domain":["-2000","-3500","-5000","less than -5500"],"range":["M-1.3,0A1.3,1,0,1,1,1.3,0A1.3,1,0,1,1,-1.3,0Z","M-1.15,-0.9H1.15V0.9H-1.15Z","M-1.65,0L0,-1.25L1.65,0L0,1.25Z","M-1.8,1.05L1.8,1.05L0,-1.1Z"]},
"legend":{"title":"OMR","orient":"none","legendX":391,"legendY":-68,"direction":"horizontal","columns":4,"titleOrient":"left","titleAnchor":"middle","titleLimit":400,"titleFontSize":30,"titleFontWeight":"normal","titleColor":"black","titlePadding":39,"labelFontSize":28,"labelLimit":400,"labelColor":"black","labelOffset":28,"columnPadding":28,"gridAlign":"each","symbolSize":400,"symbolStrokeColor":"black","symbolFillColor":"transparent","symbolStrokeWidth":1.3}}}},
{"data":{"values":[{"v":17450}]},"mark":{"type":"rule","stroke":"black","strokeWidth":2,"strokeDash":[8,9]},"encoding":{"x":{"field":"v","type":"quantitative"}}},
{"data":{"values":[{"v":2500}]},"mark":{"type":"rule","stroke":"black","strokeWidth":2,"strokeDash":[11,11]},"encoding":{"y":{"field":"v","type":"quantitative"}}},
{"data":{"name":"insetBack"},"mark":{"type":"rect","fill":"white","stroke":null},"encoding":{"x":{"field":"x","type":"quantitative"},"x2":{"field":"x2"},"y":{"field":"y","type":"quantitative"},"y2":{"field":"y2"}}},
{"data":{"name":"frame"},"mark":{"type":"rect","fill":"#004355","stroke":null,"clip":false},"encoding":{"x":{"field":"x","type":"quantitative"},"x2":{"field":"x2"},"y":{"field":"y","type":"quantitative"},"y2":{"field":"y2"}}}
]},
{"layer":[
{"data":{"name":"insetMinorX"},"mark":{"type":"rule","stroke":"#f0f0f0","strokeWidth":1.2},"encoding":{"x":{"field":"v","type":"quantitative","scale":{"domain":[4490,27022],"range":[181.5,990.8],"nice":false,"zero":false},
"axis":{"title":"Sacramento Inflow (cfs)","values":[5000,10000,15000,20000,25000],"format":"d","orient":"bottom","offset":-503,"grid":false,"domain":false,"zindex":1,"tickColor":"#333333","tickSize":7,"tickWidth":2,"labelColor":"#4d4d4d","labelFontSize":29,"labelPadding":2,"titleFontSize":29,"titleFontWeight":"normal","titleColor":"black","titlePadding":2}},"y":{"datum":600,"type":"quantitative","scale":{"domain":[600,5193],"range":[274.1,36.1],"nice":false,"zero":false},
"axis":{"title":"San Joaquin Inflow (cfs)","values":[1000,2000,3000,4000,5000],"format":"d","orient":"left","offset":-181.5,"grid":false,"domain":false,"zindex":1,"tickColor":"#333333","tickSize":7,"tickWidth":2,"labelColor":"#4d4d4d","labelFontSize":30,"labelPadding":9,"titleFont":"Liberation Sans","titleFontSize":24.5,"titleFontWeight":"normal","titleColor":"black","titlePadding":12}},"y2":{"datum":5193}}},
{"data":{"name":"insetMinorY"},"mark":{"type":"rule","stroke":"#f0f0f0","strokeWidth":1.2},"encoding":{"y":{"field":"v","type":"quantitative"},"x":{"datum":4490,"type":"quantitative"},"x2":{"datum":27022}}},
{"data":{"name":"insetMajorX"},"mark":{"type":"rule","stroke":"#ececec","strokeWidth":2},"encoding":{"x":{"field":"v","type":"quantitative"},"y":{"datum":600,"type":"quantitative"},"y2":{"datum":5193}}},
{"data":{"name":"insetMajorY"},"mark":{"type":"rule","stroke":"#ececec","strokeWidth":2},"encoding":{"y":{"field":"v","type":"quantitative"},"x":{"datum":4490,"type":"quantitative"},"x2":{"datum":27022}}},
{"data":{"name":"pts"},"transform":[{"filter":"datum.sac>4490 && datum.sac<25700 && datum.sjr>600 && datum.sjr<4950"}],"mark":{"type":"point","filled":true,"fill":"#c9c9c9","stroke":null,"opacity":1,"size":400,"shape":"M-0.75,-0.6H0.75V0.6H-0.75Z"},"encoding":{"x":{"field":"sac","type":"quantitative"},"y":{"field":"sjr","type":"quantitative"}}},
{"data":{"name":"pts"},"transform":[{"filter":"datum.group && datum.sac>4490 && datum.sac<25700 && datum.sjr>600 && datum.sjr<4950"}],"mark":{"type":"point","filled":false,"size":400,"strokeWidth":1.2,"opacity":1},"encoding":{"x":{"field":"sac","type":"quantitative"},"y":{"field":"sjr","type":"quantitative"},"color":{"field":"group","type":"nominal","legend":null},"shape":{"field":"omr","type":"nominal"}}},
{"data":{"values":[{"v":17450}]},"mark":{"type":"rule","stroke":"black","strokeWidth":2.4,"strokeDash":[8,9]},"encoding":{"x":{"field":"v","type":"quantitative"},"y":{"datum":600,"type":"quantitative"},"y2":{"datum":5193}}},
{"data":{"values":[{"v":2500}]},"mark":{"type":"rule","stroke":"black","strokeWidth":2,"strokeDash":[11,11]},"encoding":{"y":{"field":"v","type":"quantitative"},"x":{"datum":4490,"type":"quantitative"},"x2":{"datum":27022}}},
{"data":{"values":[{"x":4490,"x2":27022,"y":600,"y2":5193}]},"mark":{"type":"rect","fill":null,"stroke":"#4d4d4d","strokeWidth":2},"encoding":{"x":{"field":"x","type":"quantitative"},"x2":{"field":"x2"},"y":{"field":"y","type":"quantitative"},"y2":{"field":"y2"}}}
]}
]
}
